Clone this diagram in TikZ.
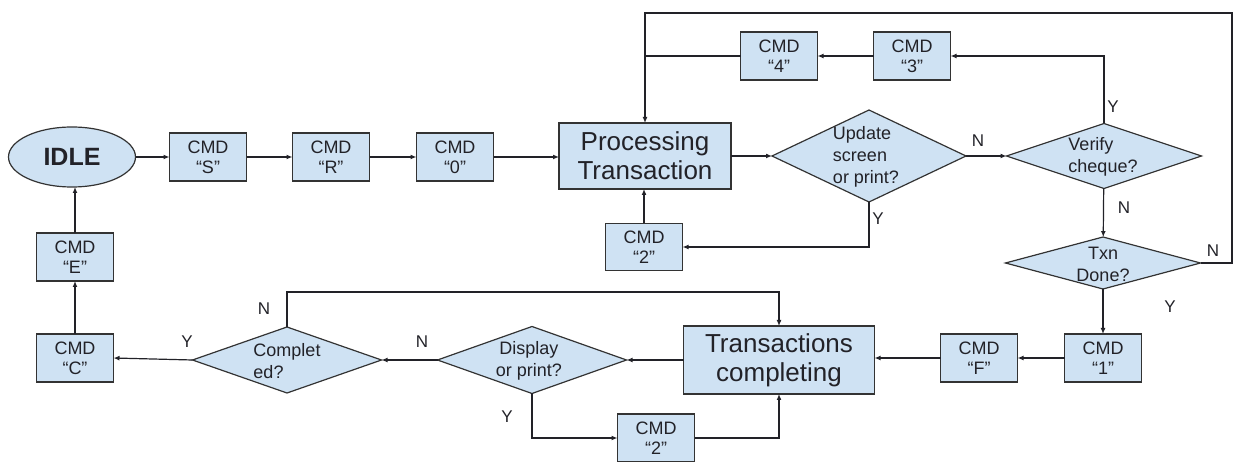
\documentclass[tikz,border=0pt]{standalone}
\usepackage{fontspec}
\setmainfont{Liberation Sans}
\usetikzlibrary{shapes.geometric,arrows.meta}
\definecolor{boxfill}{HTML}{CFE2F3}
\definecolor{edgec}{HTML}{333333}
\definecolor{ink}{HTML}{222228}
\begin{document}
\begin{tikzpicture}[x=1pt,y=-1pt,
  cmdbox/.style={draw=edgec, fill=boxfill, line width=1.2pt, minimum width=77pt, minimum height=48pt,
    inner sep=0pt, outer sep=0pt, align=center, text=ink, font=\fontsize{18}{20}\selectfont},
  bigbox/.style={draw=edgec, fill=boxfill, line width=1.2pt, inner sep=0pt, outer sep=0pt,
    align=center, text=ink, font=\fontsize{26}{29}\selectfont},
  dia/.style={diamond, draw=edgec, fill=boxfill, line width=1.2pt, inner sep=0pt, outer sep=0pt},
  dtext/.style={align=left, text=ink, font=\fontsize{18}{22}\selectfont},
  lab/.style={text=ink, font=\fontsize{17}{19}\selectfont},
  conn/.style={draw=ink, line width=1.2pt, -{Latex[length=6pt,width=5pt]}},
  plain/.style={draw=ink, line width=1.2pt}]
\useasboundingbox (0,0) rectangle (1235,462);
% nodes
\node[ellipse, draw=edgec, fill=boxfill, line width=1.2pt, minimum width=127pt, minimum height=60pt,
  inner sep=0pt, outer sep=0pt, text=ink, font=\fontsize{25}{29}\selectfont\bfseries] (idle) at (72,157) {IDLE};
\node[cmdbox] (cs) at (208,157) {CMD\\“S"};
\node[cmdbox] (cr) at (331,157) {CMD\\“R"};
\node[cmdbox] (c0) at (455,157) {CMD\\“0"};
\node[bigbox, minimum width=172pt, minimum height=66pt] (proc) at (645,156) {Processing\\Transaction};
\node[dia, minimum width=194pt, minimum height=92pt] (upd) at (869,156) {};
\node[dtext] (updt) at (866,157) {Update\\screen\\or print?};
\node[dia, minimum width=195pt, minimum height=65pt] (ver) at (1104,156) {};
\node[dtext] (vert) at (1103,157) {Verify\\cheque?};
\node[cmdbox] (c4) at (779,56) {CMD\\“4"};
\node[cmdbox] (c3) at (912,56) {CMD\\“3"};
\node[cmdbox, minimum height=47pt] (c2a) at (644,247) {CMD\\“2"};
\node[dia, minimum width=195pt, minimum height=52pt] (txn) at (1103,263) {};
\node[dtext, align=center] (txnt) at (1103,264) {Txn\\Done?};
\node[cmdbox] (c1) at (1103,358) {CMD\\“1"};
\node[cmdbox] (cf) at (979,358) {CMD\\“F"};
\node[bigbox, minimum width=191pt, minimum height=68pt] (trans) at (779,360) {Transactions\\completing};
\node[dia, minimum width=189pt, minimum height=67pt] (disp) at (532,360) {};
\node[dtext, align=center] (dispt) at (529,361) {Display\\or print?};
\node[cmdbox] (c2b) at (656,438) {CMD\\“2"};
\node[dia, minimum width=189pt, minimum height=66pt] (comp) at (287,360) {};
\node[dtext] (compt) at (287,361) {Complet\\ed?};
\node[cmdbox] (cc) at (75,358) {CMD\\“C"};
\node[cmdbox] (ce) at (75,257) {CMD\\“E"};
% labels
\node[lab] (l1) at (978,141) {N};
\node[lab] (l2) at (1113,107) {Y};
\node[lab] (l3) at (1124,208) {N};
\node[lab] (l4) at (1213,251) {N};
\node[lab] (l5) at (1170,307) {Y};
\node[lab] (l6) at (878,219) {Y};
\node[lab] (l7) at (422,342) {N};
\node[lab] (l8) at (507,417) {Y};
\node[lab] (l9) at (264,309) {N};
\node[lab] (l10) at (187,342) {Y};
% coordinates
\coordinate (rt) at (1232,13);
\coordinate (j4) at (645,56);
% connectors
\draw[conn] (idle) -- (cs);
\draw[conn] (cs) -- (cr);
\draw[conn] (cr) -- (c0);
\draw[conn] (c0.east) -- (c0.east -| proc.west);
\draw[conn] (proc) -- (upd);
\draw[conn] (upd) -- (ver);
\draw[conn] (ver.north) |- (c3.east);
\draw[conn] (c3) -- (c4);
\draw[plain] (c4.west) -- (j4);
\draw[conn] (txn.east) -| (rt) -| (proc.north);
\draw[conn] (upd.south) |- (c2a.east);
\draw[conn] (c2a.north) -- (c2a.north |- proc.south);
\draw[conn] (ver) -- (txn);
\draw[conn] (txn) -- (c1);
\draw[conn] (c1) -- (cf);
\draw[conn] (cf.west) -- (cf.west -| trans.east);
\draw[conn] (trans.west) -- (disp.east);
\draw[conn] (disp.west) -- (comp.east);
\draw[conn] (disp.south) |- (c2b.west);
\draw[conn] (c2b.east) -| (trans.south);
\draw[conn] (comp.north) -- ++(0,-35) -| (trans.north);
\draw[conn] (comp.west) -- (cc.east);
\draw[conn] (cc) -- (ce);
\draw[conn] (ce.north) -- (ce.north |- idle.south);
\end{tikzpicture}
\end{document}
